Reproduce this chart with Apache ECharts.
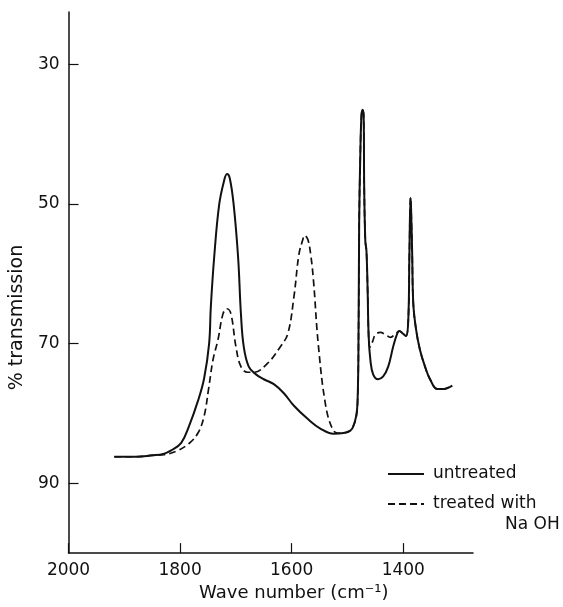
<!DOCTYPE html>
<html>
<head>
<meta charset="utf-8">
<script src="https://cdn.jsdelivr.net/npm/echarts@6/dist/echarts.min.js"></script>
<style>
html,body{margin:0;padding:0;background:#fff;}
#chart{width:563px;height:607px;}
</style>
</head>
<body>
<div id="chart"></div>
<script>
// Wave numbers (cm-1) and % transmission
var untreatedWn = [1918,1880,1850,1830,1816,1798,1784,1768,1757,1748,1745,1739,1730,1721,1716,1711,1704,1696,1691,1686,1677,1664,1650,1632,1614,1596,1571,1548,1525,1507,1491,1482,1480,1479,1477,1475,1473,1471,1470,1468,1466,1464,1462,1459,1454,1445,1436,1427,1418,1411,1407,1400,1395,1391,1389,1387,1386,1384,1382,1377,1370,1361,1352,1339,1329,1312];
var untreatedT  = [86.2,86.2,86.0,85.8,85.3,84.2,81.8,78.2,75.0,70.0,64.8,57.7,50.1,46.6,45.7,46.3,50.1,57.7,65.7,70.4,73.3,74.4,75.1,75.8,77.1,78.9,80.8,82.2,82.9,82.8,82.1,78.5,66.6,52.4,43.0,37.4,36.5,37.4,47.7,55.3,56.7,61.9,69.0,72.3,74.4,75.1,74.7,73.3,70.4,68.6,68.2,68.6,68.9,66.6,57.2,49.1,50.6,57.2,64.3,68.0,70.9,73.3,75.1,76.5,76.5,76.0];

var treatedWn = [1918,1880,1850,1830,1821,1804,1784,1768,1757,1749,1741,1732,1723,1716,1709,1700,1691,1679,1668,1643,1620,1607,1596,1587,1580,1577,1571,1566,1561,1552,1539,1527,1518,1507,1491,1482,1480,1479,1477,1475,1473,1471,1470,1468,1466,1464,1462,1460,1455,1450,1441,1432,1423,1414,1407,1400,1395,1391,1389,1387,1386,1384,1382,1377,1370,1361,1352,1339,1329,1312];
var treatedT  = [86.2,86.2,86.0,85.9,85.8,85.3,84.3,82.8,80.4,76.5,72.3,69.4,65.7,65.0,65.7,70.4,73.3,74.1,74.1,72.8,70.4,68.6,63.3,57.2,55.1,54.5,55.1,57.2,60.9,70.4,78.9,82.2,82.8,82.8,82.1,78.5,66.6,52.4,43.0,37.4,36.5,37.4,47.7,55.3,56.7,61.9,69.0,70.5,69.7,68.7,68.4,68.7,69.1,68.6,68.2,68.6,68.9,66.6,57.2,49.1,50.6,57.2,64.3,68.0,70.9,73.3,75.1,76.5,76.5,76.0];

var xTicks = [2000,1800,1600,1400];
var yTicks = [30,50,70,90];

function pairs(xs, ys){ return xs.map(function(x,i){ return [x, ys[i]]; }); }

var FONT = 'DejaVu Sans';
var INK = '#111';
var chart = echarts.init(document.getElementById('chart'), null, {renderer:'canvas'});
chart.setOption({
  animation:false,
  backgroundColor:'#fff',
  textStyle:{fontFamily:FONT},
  grid:{left:67, right:90, top:12, bottom:49},
  xAxis:{
    type:'value', inverse:true, min:1275, max:2000,
    name:'Wave number (cm\u207B\u00B9)', nameLocation:'middle', nameGap:28,
    nameTextStyle:{fontFamily:FONT, fontSize:18, color:INK, padding:[0,0,0,46]},
    axisLine:{show:true, lineStyle:{color:INK, width:1.5}},
    axisTick:{show:true, inside:true, length:10, customValues:xTicks, lineStyle:{color:INK, width:1.2}},
    axisLabel:{customValues:xTicks, fontFamily:FONT, fontSize:17, color:INK, margin:9,
      formatter:function(v){ return String(v); }},
    splitLine:{show:false}
  },
  yAxis:{
    type:'value', inverse:true, min:22.5, max:100,
    name:'% transmission', nameLocation:'middle', nameGap:36, nameRotate:90,
    nameTextStyle:{fontFamily:FONT, fontSize:19, color:INK, padding:[0,70,0,0]},
    axisLine:{show:true, lineStyle:{color:INK, width:1.5}},
    axisTick:{show:true, inside:true, length:10, customValues:yTicks, lineStyle:{color:INK, width:1.2}},
    axisLabel:{customValues:yTicks, fontFamily:FONT, fontSize:17, color:INK, margin:9,
      formatter:function(v){ return String(v); }},
    splitLine:{show:false}
  },
  legend:{
    data:['untreated','treated with Na OH'],
    orient:'vertical', left:382, top:459,
    itemWidth:36, itemHeight:14, itemGap:10,
    itemStyle:{opacity:0},
    formatter:function(n){ return n==='treated with Na OH' ? 'treated with' : n; },
    textStyle:{fontFamily:FONT, fontSize:17, color:INK, lineHeight:20, padding:[0,0,0,4]}
  },
  graphic:[{
    type:'text', left:505, top:516,
    style:{text:'Na OH', font:'17px "DejaVu Sans"', fill:INK}
  }],
  series:[{
    name:'treated with Na OH', type:'line', symbol:'none', showSymbol:false,
    smooth:0.4,
    data:pairs(treatedWn, treatedT),
    lineStyle:{color:INK, width:1.7, type:[7,4]},
    itemStyle:{color:INK}, z:2
  },{
    name:'untreated', type:'line', symbol:'none', showSymbol:false,
    smooth:0.4,
    data:pairs(untreatedWn, untreatedT),
    lineStyle:{color:INK, width:2},
    itemStyle:{color:INK}, z:3
  }]
});
</script>
</body>
</html>
